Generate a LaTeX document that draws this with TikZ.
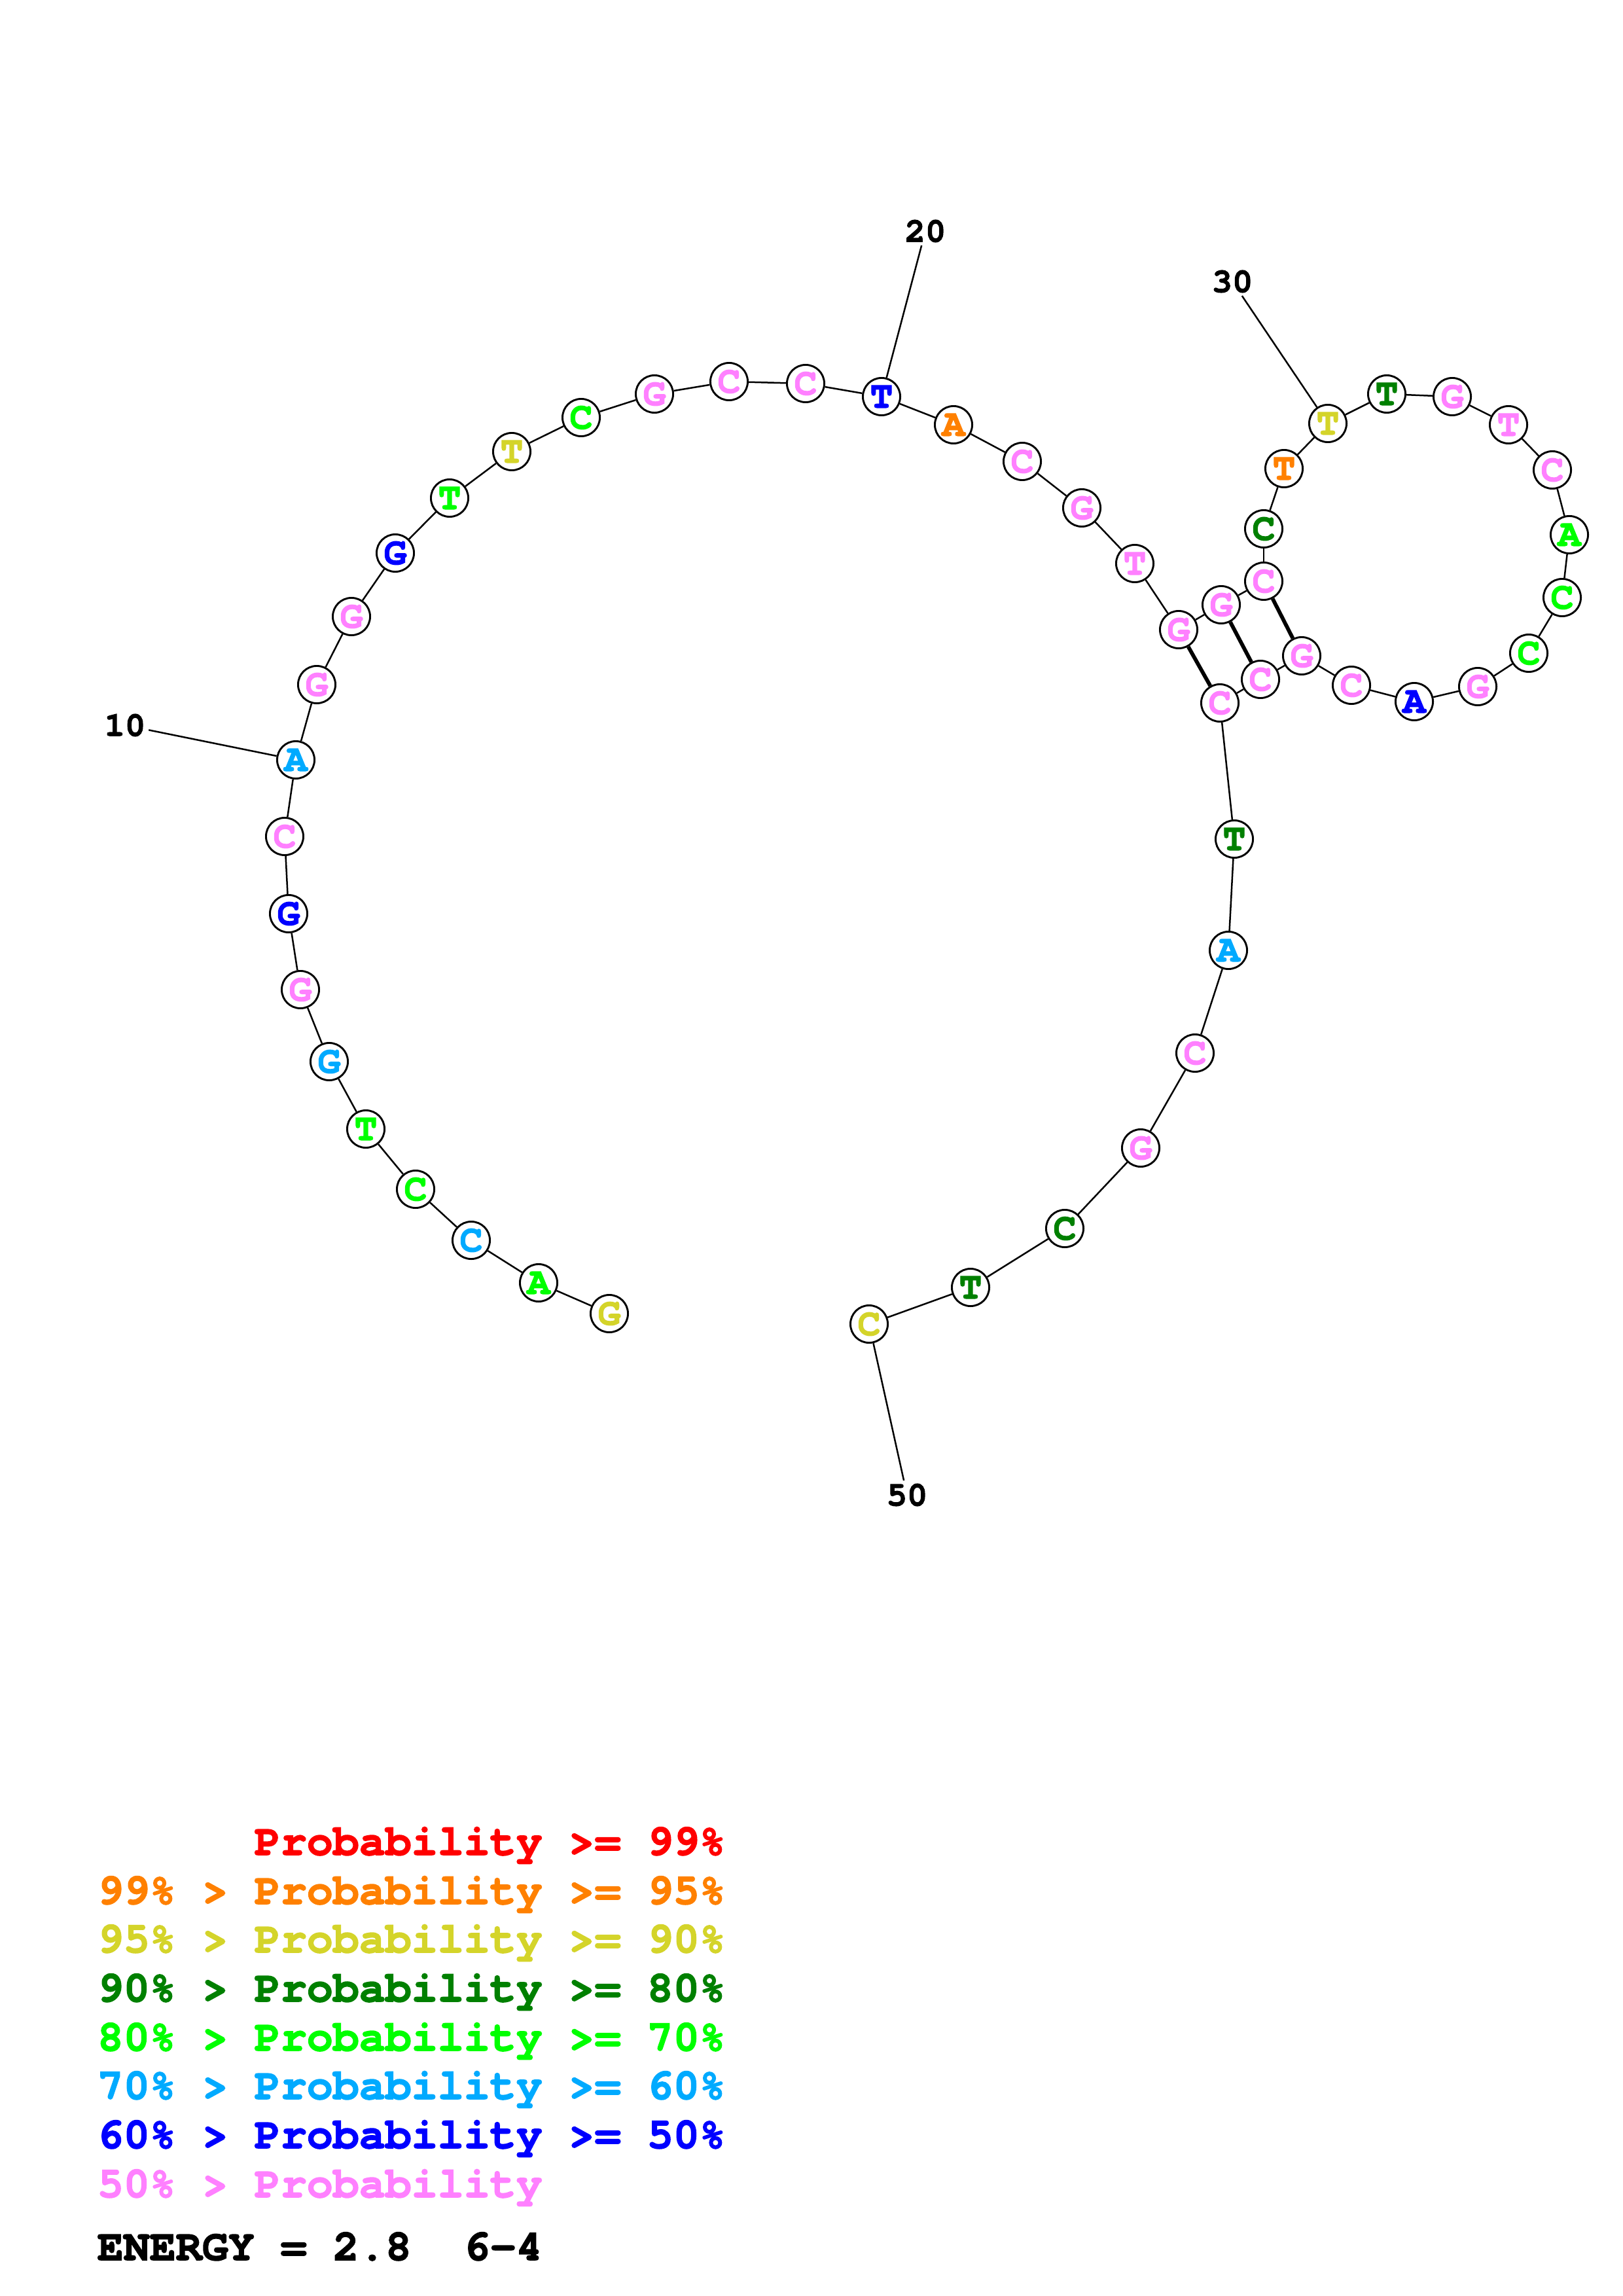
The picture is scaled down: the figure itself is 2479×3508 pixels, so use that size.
\documentclass[tikz,border=0pt]{standalone}
\usepackage{fontspec}
\setmonofont[BoldFeatures={FakeBold=2.2}]{TeX Gyre Cursor}
\definecolor{cred}{RGB}{255,0,0}
\definecolor{corange}{RGB}{255,128,0}
\definecolor{cyellow}{RGB}{212,212,42}
\definecolor{cdgreen}{RGB}{0,128,0}
\definecolor{cgreen}{RGB}{0,255,0}
\definecolor{clblue}{RGB}{0,170,255}
\definecolor{cblue}{RGB}{0,0,255}
\definecolor{cpink}{RGB}{255,128,255}
\tikzset{
  nt/.style={circle, draw=black, line width=0.7pt, fill=white, minimum size=13.7pt, inner sep=0pt,
    font=\ttfamily\bfseries\fontsize{14}{14}\selectfont},
  bb/.style={line width=0.6pt, black},
  bp/.style={line width=1.4pt, black},
  numlab/.style={inner sep=1pt, font=\ttfamily\bfseries\fontsize{12.5}{12.5}\selectfont},
  leg/.style={anchor=base west, inner sep=0pt, font=\ttfamily\bfseries\fontsize{16}{16}\selectfont}
}
\begin{document}
\begin{tikzpicture}[x=0.24pt,y=-0.24pt]
\useasboundingbox (0,0) rectangle (2479,3508);
\foreach \i/\x/\y/\l/\c in {
1/931/2007/G/cyellow, 2/823/1960/A/cgreen, 3/720/1895/C/clblue, 4/635/1817/C/cgreen,
5/559/1725/T/cgreen, 6/503/1622/G/clblue, 7/459/1512/G/cpink, 8/441/1396/G/cblue,
9/435/1278/C/cpink, 10/452/1161/A/clblue, 11/484/1046/G/cpink, 12/537/942/G/cpink,
13/604/845/G/cblue, 14/687/761/T/cgreen, 15/782/690/T/cyellow, 16/888/638/C/cgreen,
17/1000/602/G/cpink, 18/1114/583/C/cpink, 19/1231/586/C/cpink, 20/1347/606/T/cblue,
21/1457/649/A/corange, 22/1562/705/C/cpink, 23/1653/776/G/cpink, 24/1734/861/T/cpink,
25/1801/962/G/cpink, 26/1866/924/G/cpink, 27/1931/888/C/cpink, 28/1931/808/C/cdgreen,
29/1962/716/T/corange, 30/2029/647/T/cyellow, 31/2119/602/T/cdgreen, 32/2219/606/G/cpink,
33/2305/649/T/cpink, 34/2372/718/C/cpink, 35/2398/817/A/cgreen, 36/2387/913/C/cgreen,
37/2336/998/C/cgreen, 38/2258/1049/G/cpink, 39/2161/1072/A/cblue, 40/2065/1047/C/cpink,
41/1989/1002/G/cpink, 42/1926/1038/C/cpink, 43/1864/1074/C/cpink, 44/1886/1282/T/cdgreen,
45/1877/1452/A/clblue, 46/1826/1609/C/cpink, 47/1743/1754/G/cpink, 48/1627/1877/C/cdgreen,
49/1483/1967/T/cdgreen, 50/1328/2023/C/cyellow}
{ \node[nt, text=\c] (n\i) at (\x,\y) {\l}; }
\foreach \i in {1,...,49} {
  \pgfmathtruncatemacro\j{\i+1}
  \draw[bb] (n\i) -- (n\j);
}
\draw[bp] (n25) -- (n43);
\draw[bp] (n26) -- (n42);
\draw[bp] (n27) -- (n41);
% index labels
\node[numlab] (l10) at (191,1108) {10};
\node[numlab] (l20) at (1414,353) {20};
\node[numlab] (l30) at (1883,430) {30};
\node[numlab] (l50) at (1386,2284) {50};
\draw[bb] (l10) -- (n10);
\draw[bb] (l20) -- (n20);
\draw[bb] (l30) -- (n30);
\draw[bb] (l50) -- (n50);
% legend
\node[leg, text=cred] (g1) at (148,2834) {\phantom{99\% >} Probability >= 99\%};
\node[leg, text=corange] (g2) at (148,2909) {99\% > Probability >= 95\%};
\node[leg, text=cyellow] (g3) at (148,2983) {95\% > Probability >= 90\%};
\node[leg, text=cdgreen] (g4) at (148,3058) {90\% > Probability >= 80\%};
\node[leg, text=cgreen] (g5) at (148,3133) {80\% > Probability >= 70\%};
\node[leg, text=clblue] (g6) at (148,3207) {70\% > Probability >= 60\%};
\node[leg, text=cblue] (g7) at (148,3282) {60\% > Probability >= 50\%};
\node[leg, text=cpink] (g8) at (148,3357) {50\% > Probability};
\node[leg, text=black] (en) at (148,3453) {ENERGY = 2.8\ \ 6-4};
\end{tikzpicture}
\end{document}
